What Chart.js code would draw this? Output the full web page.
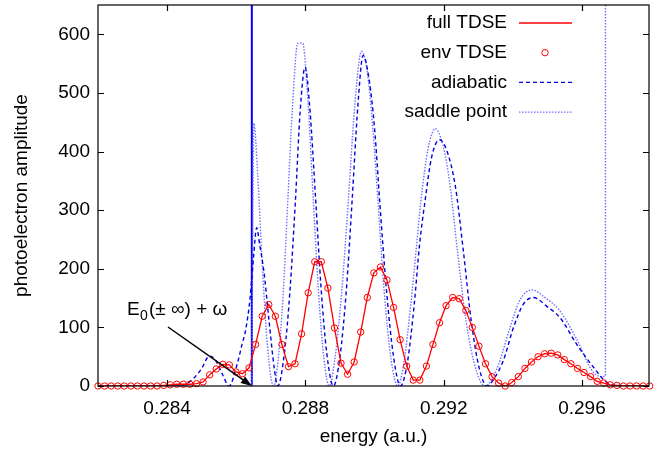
<!DOCTYPE html>
<html lang="en">
<head>
<meta charset="UTF-8">
<title>Photoelectron amplitude</title>
<script src="https://cdn.jsdelivr.net/npm/chart.js"></script>
<style>
  html, body { margin: 0; padding: 0; background: #fff; }
  #wrap { width: 654px; height: 455px; }
</style>
</head>
<body>
<div id="wrap"><canvas id="myChart" width="654" height="455"></canvas></div>
<script>
// full / env TDSE (same sampling grid)
const tdseEnergy = [0.28200, 0.28219, 0.28238, 0.28257, 0.28276, 0.28295, 0.28314, 0.28333, 0.28352, 0.28371,
  0.28390, 0.28409, 0.28428, 0.28447, 0.28466, 0.28485, 0.28504, 0.28523, 0.28542, 0.28561,
  0.28580, 0.28599, 0.28618, 0.28637, 0.28656, 0.28675, 0.28694, 0.28713, 0.28732, 0.28751,
  0.28770, 0.28789, 0.28808, 0.28827, 0.28846, 0.28865, 0.28884, 0.28903, 0.28922, 0.28941,
  0.28960, 0.28979, 0.28998, 0.29017, 0.29036, 0.29055, 0.29074, 0.29093, 0.29112, 0.29131,
  0.29150, 0.29169, 0.29188, 0.29207, 0.29226, 0.29245, 0.29264, 0.29283, 0.29302, 0.29321,
  0.29340, 0.29359, 0.29378, 0.29397, 0.29416, 0.29435, 0.29454, 0.29473, 0.29492, 0.29511,
  0.29530, 0.29549, 0.29568, 0.29587, 0.29606, 0.29625, 0.29644, 0.29663, 0.29682, 0.29701,
  0.29720, 0.29739, 0.29758, 0.29777, 0.29796];
const tdseAmp = [0, 0, 0, 0, 0, 0, 0, 0, 0, 0,
  1, 2, 3, 3, 3, 4, 7, 19, 29, 37,
  36, 24, 21, 31, 71, 119, 139, 119, 71, 33,
  38, 89, 159, 212, 212, 167, 99, 39, 20, 41,
  92, 151, 193, 203, 181, 134, 79, 34, 10, 10,
  34, 71, 108, 137, 151, 149, 129, 100, 68, 38,
  16, 5, 0, 6, 16, 30, 41, 50, 55, 56,
  53, 45, 38, 30, 23, 16, 8, 5, 2, 1,
  0, 0, 0, 0, 0];

// adiabatic
const adiabaticEnergy = [0.28200, 0.28430, 0.28450, 0.28475, 0.28500, 0.28522, 0.28540, 0.28560, 0.28579,
  0.28603, 0.28617, 0.28627, 0.28640, 0.28650, 0.28659, 0.28668, 0.28680, 0.28695, 0.28710, 0.28720,
  0.28740, 0.28755, 0.28771, 0.28785, 0.28799, 0.28812, 0.28830, 0.28845, 0.28862, 0.28881,
  0.28900, 0.28918, 0.28935, 0.28952, 0.28967, 0.28985, 0.29000, 0.29015, 0.29035, 0.29055, 0.29075,
  0.29095, 0.29115, 0.29130, 0.29146, 0.29165, 0.29188, 0.29210, 0.29234, 0.29257, 0.29280, 0.29303, 0.29326,
  0.29345, 0.29373, 0.29402, 0.29431, 0.29460, 0.29500, 0.29536, 0.29584, 0.29632, 0.29670, 0.29700, 0.29800];
const adiabaticAmp = [0, 0, 2, 12, 30, 51, 44, 20, 0,
  38, 72, 95, 150, 220, 270, 240, 195, 110, 30, 0,
  60, 160, 315, 470, 544, 480, 315, 170, 55, 0,
  50, 160, 315, 480, 564, 520, 440, 315, 160, 50, 0,
  40, 140, 240, 315, 390, 420, 400, 340, 230, 110, 30, 0,
  12, 44, 100, 140, 151, 135, 117, 72, 33, 7, 1, 0];

// saddle point
const saddleEnergy = [0.28645, 0.28651, 0.28662, 0.28675, 0.28690, 0.28708,
  0.28722, 0.28735, 0.28749, 0.28762, 0.28778, 0.28792, 0.28808, 0.28823, 0.28838, 0.28853, 0.28869,
  0.28885, 0.28905, 0.28924, 0.28943, 0.28962, 0.28978, 0.28995, 0.29010, 0.29028, 0.29048, 0.29067,
  0.29085, 0.29105, 0.29120, 0.29134, 0.29155, 0.29176, 0.29198, 0.29217, 0.29240, 0.29265, 0.29295, 0.29321,
  0.29340, 0.29363, 0.29392, 0.29420, 0.29455, 0.29495, 0.29535, 0.29582, 0.29632, 0.29661, 0.29668];
const saddleAmp = [0, 448, 360, 210, 70, 0,
  50, 150, 315, 470, 585, 585, 480, 315, 160, 50, 0,
  45, 160, 315, 480, 571, 540, 440, 315, 160, 45, 0,
  40, 140, 230, 315, 405, 439, 410, 349, 230, 110, 25, 0,
  12, 44, 100, 146, 164, 150, 129, 83, 24, 16, 18];
const saddleEdgeEnergy = [0.29668, 0.29668];
const saddleEdgeAmp = [18, 700];

// E0(+-inf) + omega marker
const markerEnergy = [0.28645, 0.28645];
const markerAmp = [0, 700];

const xTicks = [0.284, 0.288, 0.292, 0.296];
const yTicks = [0, 100, 200, 300, 400, 500, 600];

const FONT = '"Liberation Sans", Arial, Helvetica, sans-serif';
const pts = (xs, ys) => xs.map((x, i) => ({ x: x, y: ys[i] }));

const framePlugin = {
  id: 'frame',
  afterDatasetsDraw(chart) {
    const { ctx, chartArea: a, scales: { x, y } } = chart;
    ctx.save();
    // border + inward ticks (all four sides)
    ctx.strokeStyle = '#000';
    ctx.lineWidth = 1.2;
    ctx.strokeRect(a.left, a.top, a.right - a.left, a.bottom - a.top);
    ctx.beginPath();
    xTicks.forEach(v => {
      const px = Math.round(x.getPixelForValue(v)) + 0.5;
      ctx.moveTo(px, a.bottom); ctx.lineTo(px, a.bottom - 6);
      ctx.moveTo(px, a.top); ctx.lineTo(px, a.top + 6);
    });
    yTicks.forEach(v => {
      const py = Math.round(y.getPixelForValue(v)) + 0.5;
      ctx.moveTo(a.left, py); ctx.lineTo(a.left + 6, py);
      ctx.moveTo(a.right, py); ctx.lineTo(a.right - 6, py);
    });
    ctx.stroke();

    // legend, top right
    ctx.font = '19px ' + FONT;
    ctx.textAlign = 'right';
    ctx.textBaseline = 'middle';
    ctx.fillStyle = '#000';
    const rows = ['full TDSE', 'env TDSE', 'adiabatic', 'saddle point'];
    rows.forEach((label, i) => {
      const ly = 23 + i * 29.7;
      ctx.fillText(label, 507, ly);
      ctx.beginPath();
      if (i === 1) {
        ctx.strokeStyle = '#ff0000'; ctx.lineWidth = 1; ctx.setLineDash([]);
        ctx.arc(545, ly, 3.2, 0, Math.PI * 2);
      } else {
        const ds = chart.data.datasets[i];
        ctx.strokeStyle = ds.borderColor; ctx.lineWidth = ds.borderWidth;
        ctx.setLineDash(ds.borderDash || []);
        ctx.moveTo(519, ly); ctx.lineTo(572, ly);
      }
      ctx.stroke();
    });
    ctx.setLineDash([]);

    // annotation with arrow
    ctx.fillStyle = '#000';
    ctx.textAlign = 'left';
    ctx.textBaseline = 'alphabetic';
    ctx.font = '19px ' + FONT;
    ctx.fillText('E', 127, 315);
    ctx.font = '14px ' + FONT;
    ctx.fillText('0', 140, 320);
    ctx.font = '19px ' + FONT;
    ctx.fillText('(\u00b1 \u221e) + \u03c9', 149, 315);

    const x0 = 168, y0 = 327;
    const x1 = x.getPixelForValue(markerEnergy[0]), y1 = a.bottom;
    const ang = Math.atan2(y1 - y0, x1 - x0);
    ctx.strokeStyle = '#000';
    ctx.lineWidth = 1.5;
    ctx.beginPath();
    ctx.moveTo(x0, y0); ctx.lineTo(x1 - 8 * Math.cos(ang), y1 - 8 * Math.sin(ang));
    ctx.stroke();
    ctx.beginPath();
    ctx.moveTo(x1, y1);
    ctx.lineTo(x1 - 11 * Math.cos(ang) + 4 * Math.sin(ang), y1 - 11 * Math.sin(ang) - 4 * Math.cos(ang));
    ctx.lineTo(x1 - 11 * Math.cos(ang) - 4 * Math.sin(ang), y1 - 11 * Math.sin(ang) + 4 * Math.cos(ang));
    ctx.closePath();
    ctx.fill();
    ctx.restore();
  }
};

const ctx = document.getElementById('myChart').getContext('2d');
new Chart(ctx, {
  type: 'line',
  data: {
    datasets: [
      {
        label: 'full TDSE',
        data: pts(tdseEnergy, tdseAmp),
        borderColor: '#ff0000',
        borderWidth: 1.3,
        pointRadius: 0,
        tension: 0
      },
      {
        label: 'env TDSE',
        data: pts(tdseEnergy, tdseAmp),
        showLine: false,
        pointRadius: 3.2,
        pointBorderWidth: 1,
        pointBorderColor: '#ff0000',
        pointBackgroundColor: 'rgba(0,0,0,0)',
        clip: false
      },
      {
        label: 'adiabatic',
        data: pts(adiabaticEnergy, adiabaticAmp),
        borderColor: '#0000e0',
        borderWidth: 1.4,
        borderDash: [4, 3],
        pointRadius: 0,
        cubicInterpolationMode: 'monotone'
      },
      {
        label: 'saddle point',
        data: pts(saddleEnergy, saddleAmp),
        borderColor: '#7070ff',
        borderWidth: 1.4,
        borderDash: [1.5, 1.5],
        pointRadius: 0,
        cubicInterpolationMode: 'monotone'
      },
      {
        label: 'saddle edge',
        data: pts(saddleEdgeEnergy, saddleEdgeAmp),
        borderColor: '#7070ff',
        borderWidth: 1.4,
        borderDash: [1.5, 1.5],
        pointRadius: 0,
        tension: 0
      },
      {
        label: 'marker',
        data: pts(markerEnergy, markerAmp),
        borderColor: '#0000ff',
        borderWidth: 2,
        pointRadius: 0,
        tension: 0
      }
    ]
  },
  options: {
    responsive: false,
    animation: false,
    layout: { padding: { top: 2, right: 1, left: 0, bottom: 0 } },
    plugins: { legend: { display: false }, tooltip: { enabled: false } },
    scales: {
      x: {
        type: 'linear',
        min: 0.282,
        max: 0.29794,
        grid: { display: false, drawTicks: false },
        border: { display: false },
        afterBuildTicks: s => { s.ticks = xTicks.map(v => ({ value: v })); },
        afterFit: s => { s.height = 69; s.paddingLeft = 0; s.paddingRight = 0; },
        ticks: {
          color: '#000',
          font: { family: FONT, size: 19 },
          padding: 11,
          maxRotation: 0,
          autoSkip: false,
          callback: v => v.toFixed(3)
        },
        title: {
          display: true,
          text: 'energy (a.u.)',
          color: '#000',
          font: { family: FONT, size: 19 },
          padding: { top: 0, bottom: 7 }
        }
      },
      y: {
        min: 0,
        max: 650,
        grid: { display: false, drawTicks: false },
        border: { display: false },
        afterBuildTicks: s => { s.ticks = yTicks.map(v => ({ value: v })); },
        afterFit: s => { s.width = 98; s.paddingTop = 0; s.paddingBottom = 0; },
        ticks: {
          color: '#000',
          font: { family: FONT, size: 19 },
          padding: 8
        },
        title: {
          display: true,
          text: 'photoelectron amplitude',
          color: '#000',
          font: { family: FONT, size: 19 },
          padding: { top: 10, bottom: 0 }
        }
      }
    }
  },
  plugins: [framePlugin]
});
</script>
</body>
</html>
